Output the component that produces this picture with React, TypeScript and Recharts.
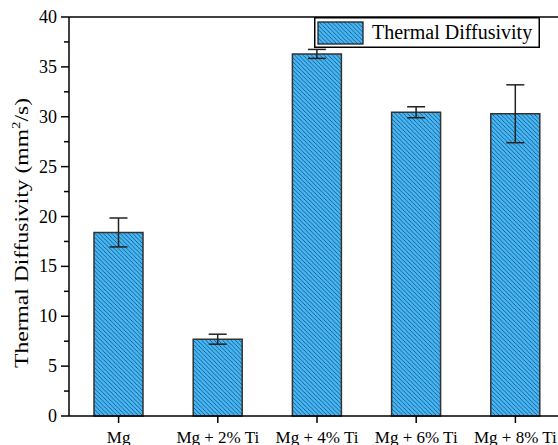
import React from 'react';
import { BarChart, Bar, XAxis, YAxis, ErrorBar, ReferenceLine, Legend } from 'recharts';

const categories = ['Mg', 'Mg + 2% Ti', 'Mg + 4% Ti', 'Mg + 6% Ti', 'Mg + 8% Ti'];
const diffusivity = [18.4, 7.7, 36.3, 30.45, 30.3];
const diffusivityErr = [1.45, 0.5, 0.45, 0.55, 2.9];
const yTicks = [0, 2.5, 5, 7.5, 10, 12.5, 15, 17.5, 20, 22.5, 25, 27.5, 30, 32.5, 35, 37.5, 40];
const seriesName = 'Thermal Diffusivity';

const data = categories.map((c, i) => ({ name: c, value: diffusivity[i], err: diffusivityErr[i] }));

const FONT = '"Liberation Serif", "Times New Roman", serif';
const FILL = '#44b8f6';

const YTick = (props: any) => {
  const { x, y, payload } = props;
  const v = payload.value;
  const major = v % 5 === 0;
  return (
    <g>
      <line x1={x} x2={x - (major ? 8 : 5)} y1={y} y2={y} stroke="#000" strokeWidth={1.5} />
      {major && (
        <text x={x - 12} y={y} dy="0.34em" textAnchor="end" fontFamily={FONT} fontSize={18} fill="#000">
          {v}
        </text>
      )}
    </g>
  );
};

const YLabel = () => (
  <text
    x={28}
    y={233}
    transform="rotate(-90 28 233)"
    textAnchor="middle"
    fontFamily={FONT}
    fontSize={19}
    textLength={270}
    lengthAdjust="spacingAndGlyphs"
    fill="#000"
  >
    Thermal Diffusivity (mm
    <tspan fontSize={12} dy={-8}>2</tspan>
    <tspan dy={8}>/s)</tspan>
  </text>
);

const LegendBox = () => (
  <svg width={226} height={31} style={{ display: 'block' }}>
    <rect x={0.75} y={0.75} width={224.5} height={29.5} fill="#fff" stroke="#000" strokeWidth={1.5} />
    <rect x={4} y={5} width={45} height={22} fill="url(#hatchPat)" stroke="#222" strokeWidth={1.3} />
    <text x={58} y={22} fontFamily={FONT} fontSize={20} fill="#000">
      {seriesName}
    </text>
  </svg>
);

export default function App() {
  return (
    <div style={{ position: 'absolute', left: 0, top: 0, width: 558, height: 445, overflow: 'hidden', background: '#fff' }}>
      <svg width={0} height={0} style={{ position: 'absolute' }}>
        <defs>
          <pattern id="hatchPat" patternUnits="userSpaceOnUse" x={0} y={0} width={4.2} height={4.2}>
            <rect x={0} y={0} width={4.2} height={4.2} fill={FILL} />
            <path
              d="M-1,-1 L5.2,5.2 M-1,3.2 L1,5.2 M3.2,-1 L5.2,1"
              stroke="#1d4670"
              strokeWidth={0.8}
            />
          </pattern>
        </defs>
      </svg>
      <BarChart
        width={570}
        height={445}
        data={data}
        margin={{ top: 17, right: 5, left: 0, bottom: 0 }}
        barSize={49}
      >
        <XAxis
          dataKey="name"
          height={29}
          interval={0}
          axisLine={{ stroke: '#000', strokeWidth: 1.5 }}
          tickLine={{ stroke: '#000', strokeWidth: 1.5 }}
          tickSize={7}
          tickMargin={8}
          tick={{ fontFamily: FONT, fontSize: 17, fill: '#000' }}
        />
        <YAxis
          width={69}
          domain={[0, 40]}
          ticks={yTicks}
          interval={0}
          allowDecimals
          axisLine={{ stroke: '#000', strokeWidth: 1.5 }}
          tickLine={false}
          tickSize={0}
          tickMargin={0}
          tick={<YTick />}
          label={<YLabel />}
        />
        <ReferenceLine y={40} stroke="#000" strokeWidth={1.5} />
        <Legend
          layout="horizontal"
          verticalAlign="middle"
          align="center"
          wrapperStyle={{ position: 'absolute', left: 314, top: 17, width: 226, height: 31 }}
          content={() => <LegendBox />}
        />
        <Bar
          dataKey="value"
          name={seriesName}
          fill="url(#hatchPat)"
          stroke="#333"
          strokeWidth={1.5}
          isAnimationActive={false}
        >
          <ErrorBar dataKey="err" width={9} stroke="#222" strokeWidth={1.5} />
        </Bar>
      </BarChart>
    </div>
  );
}
